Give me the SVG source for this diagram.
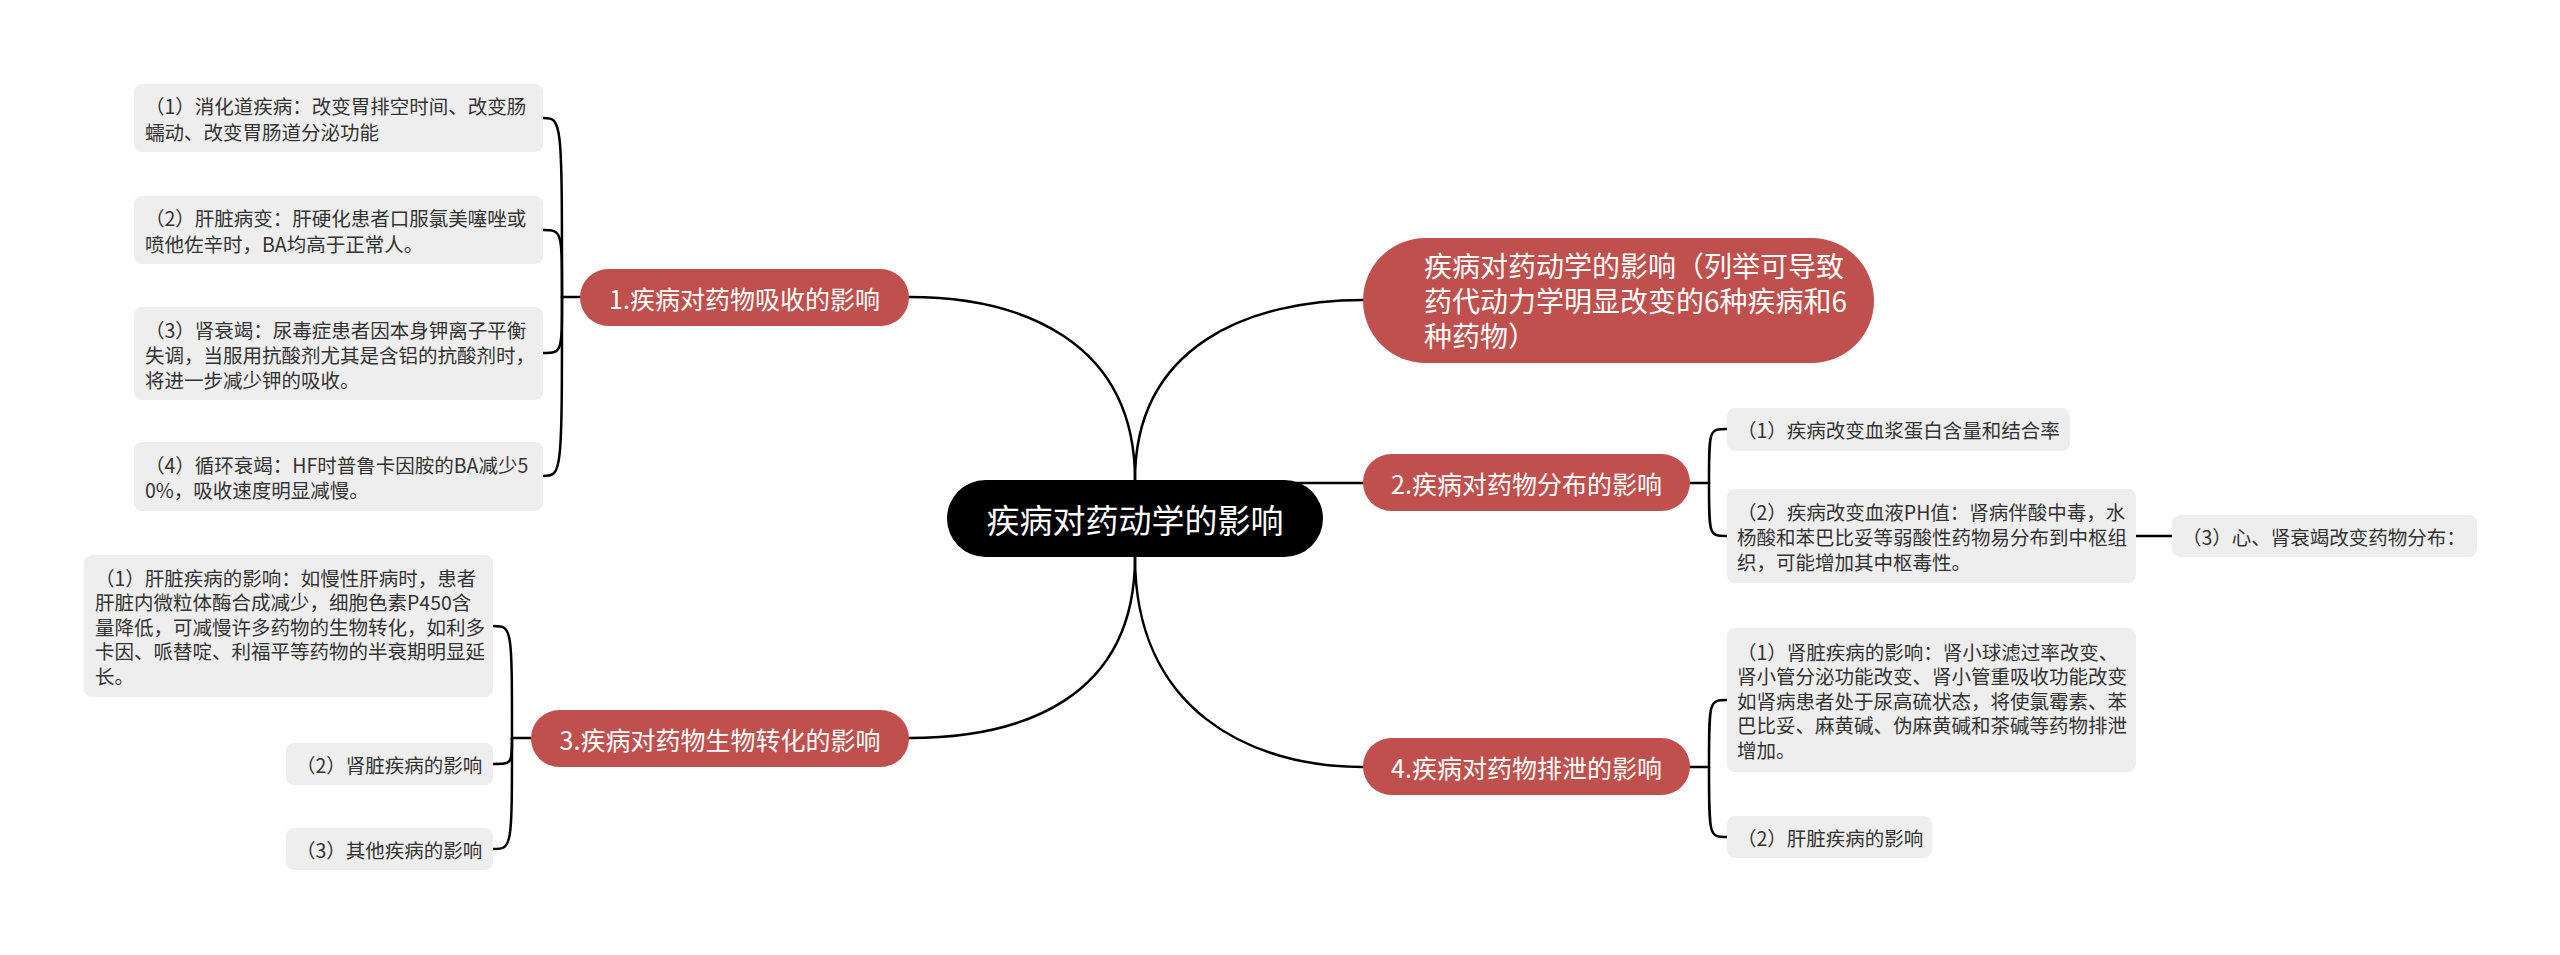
<svg xmlns="http://www.w3.org/2000/svg" width="2560" height="955" viewBox="0 0 2560 955">
<style>
text{font-family:"Noto Sans CJK SC","Noto Sans",sans-serif;dominant-baseline:central}
.leaf rect{fill:#eeeeee}
.leaf text{font-size:19.5px;fill:#333333}
.branch rect{fill:#c0504d}
.branch text{font-size:25px;fill:#ffffff}
.branch text.big{font-size:28px}
.root rect{fill:#000000}
.root text{font-size:33px;fill:#ffffff}
.conn path{fill:none;stroke:#000000;stroke-width:2.5;stroke-linecap:round}
</style>
<rect width="2560" height="955" fill="#ffffff"/>
<g id="connectors" class="conn">
<path d="M1135 480 C1135 340 1020 297 909 297"/>
<path d="M1135 480 C1135 345 1250 300 1363 300"/>
<path d="M1135 483 L1363 483"/>
<path d="M1135 557 C1135 700 1020 738 909 738"/>
<path d="M1135 557 C1135 710 1250 767 1363 767"/>
<path d="M580 297 L562 297 C562 118 562 118 543 118"/>
<path d="M562 297 C562 230 562 230 543 230"/>
<path d="M562 297 C562 353 562 353 543 353"/>
<path d="M562 297 C562 476 562 476 543 476"/>
<path d="M531 738 L512 738 C512 626 512 626 493 626"/>
<path d="M512 738 C512 764 512 764 493 764"/>
<path d="M512 738 C512 849 512 849 493 849"/>
<path d="M1690 483 L1709 483 C1709 429 1709 429 1727 429"/>
<path d="M1709 483 C1709 536 1709 536 1727 536"/>
<path d="M2136 536 L2172 536"/>
<path d="M1690 767 L1709 767 C1709 700 1709 700 1727 700"/>
<path d="M1709 767 C1709 837 1709 837 1727 837"/>
</g>
<g id="root" class="root">
<rect x="947" y="480" width="376" height="77" rx="38.5"/>
<text x="1135" y="518.5" text-anchor="middle">疾病对药动学的影响</text>
</g>
<g id="b1" class="branch">
<rect x="580" y="269" width="329" height="57" rx="28.5"/>
<text x="744.5" y="297.5" text-anchor="middle">1.疾病对药物吸收的影响</text>
</g>
<g id="b0" class="branch">
<rect x="1363" y="238" width="511" height="125" rx="62.5"/>
<text class="big" x="1424" y="265">疾病对药动学的影响（列举可导致</text>
<text class="big" x="1424" y="300">药代动力学明显改变的6种疾病和6</text>
<text class="big" x="1424" y="335">种药物）</text>
</g>
<g id="b2" class="branch">
<rect x="1363" y="454" width="327" height="57" rx="28.5"/>
<text x="1526.5" y="482.5" text-anchor="middle">2.疾病对药物分布的影响</text>
</g>
<g id="b3" class="branch">
<rect x="531" y="710" width="378" height="57" rx="28.5"/>
<text x="720" y="738.5" text-anchor="middle">3.疾病对药物生物转化的影响</text>
</g>
<g id="b4" class="branch">
<rect x="1363" y="738" width="327" height="57" rx="28.5"/>
<text x="1526.5" y="766.5" text-anchor="middle">4.疾病对药物排泄的影响</text>
</g>
<g id="l1-1" class="leaf">
<rect x="134" y="84" width="409" height="68" rx="8"/>
<text x="145" y="105.5">（1）消化道疾病：改变胃排空时间、改变肠</text>
<text x="145" y="131">蠕动、改变胃肠道分泌功能</text>
</g>
<g id="l1-2" class="leaf">
<rect x="134" y="196" width="409" height="68" rx="8"/>
<text x="145" y="217.5">（2）肝脏病变：肝硬化患者口服氯美噻唑或</text>
<text x="145" y="243">喷他佐辛时，BA均高于正常人。</text>
</g>
<g id="l1-3" class="leaf">
<rect x="134" y="307" width="409" height="93" rx="8"/>
<text x="145" y="329">（3）肾衰竭：尿毒症患者因本身钾离子平衡</text>
<text x="145" y="354">失调，当服用抗酸剂尤其是含铝的抗酸剂时，</text>
<text x="145" y="379">将进一步减少钾的吸收。</text>
</g>
<g id="l1-4" class="leaf">
<rect x="134" y="442" width="409" height="69" rx="8"/>
<text x="145" y="464">（4）循环衰竭：HF时普鲁卡因胺的BA减少5</text>
<text x="145" y="489.5">0%，吸收速度明显减慢。</text>
</g>
<g id="l3-1" class="leaf">
<rect x="84" y="555" width="409" height="142" rx="8"/>
<text x="95" y="577">（1）肝脏疾病的影响：如慢性肝病时，患者</text>
<text x="95" y="601.5">肝脏内微粒体酶合成减少，细胞色素P450含</text>
<text x="95" y="626">量降低，可减慢许多药物的生物转化，如利多</text>
<text x="95" y="650.5">卡因、哌替啶、利福平等药物的半衰期明显延</text>
<text x="95" y="675">长。</text>
</g>
<g id="l3-2" class="leaf">
<rect x="286" y="743" width="207" height="42" rx="8"/>
<text x="296" y="764">（2）肾脏疾病的影响</text>
</g>
<g id="l3-3" class="leaf">
<rect x="286" y="828" width="207" height="42" rx="8"/>
<text x="296" y="849">（3）其他疾病的影响</text>
</g>
<g id="l2-1" class="leaf">
<rect x="1727" y="408" width="343" height="43" rx="8"/>
<text x="1737" y="429.5">（1）疾病改变血浆蛋白含量和结合率</text>
</g>
<g id="l2-2" class="leaf">
<rect x="1727" y="489" width="409" height="94" rx="8"/>
<text x="1737" y="511">（2）疾病改变血液PH值：肾病伴酸中毒，水</text>
<text x="1737" y="536">杨酸和苯巴比妥等弱酸性药物易分布到中枢组</text>
<text x="1737" y="561">织，可能增加其中枢毒性。</text>
</g>
<g id="l2-3" class="leaf">
<rect x="2172" y="515" width="305" height="42" rx="8"/>
<text x="2182" y="536">（3）心、肾衰竭改变药物分布：</text>
</g>
<g id="l4-1" class="leaf">
<rect x="1727" y="628" width="409" height="144" rx="8"/>
<text x="1737" y="651">（1）肾脏疾病的影响：肾小球滤过率改变、</text>
<text x="1737" y="675.5">肾小管分泌功能改变、肾小管重吸收功能改变</text>
<text x="1737" y="700">如肾病患者处于尿高硫状态，将使氯霉素、苯</text>
<text x="1737" y="724.5">巴比妥、麻黄碱、伪麻黄碱和茶碱等药物排泄</text>
<text x="1737" y="749">增加。</text>
</g>
<g id="l4-2" class="leaf">
<rect x="1727" y="816" width="205" height="42" rx="8"/>
<text x="1737" y="837">（2）肝脏疾病的影响</text>
</g>
</svg>
